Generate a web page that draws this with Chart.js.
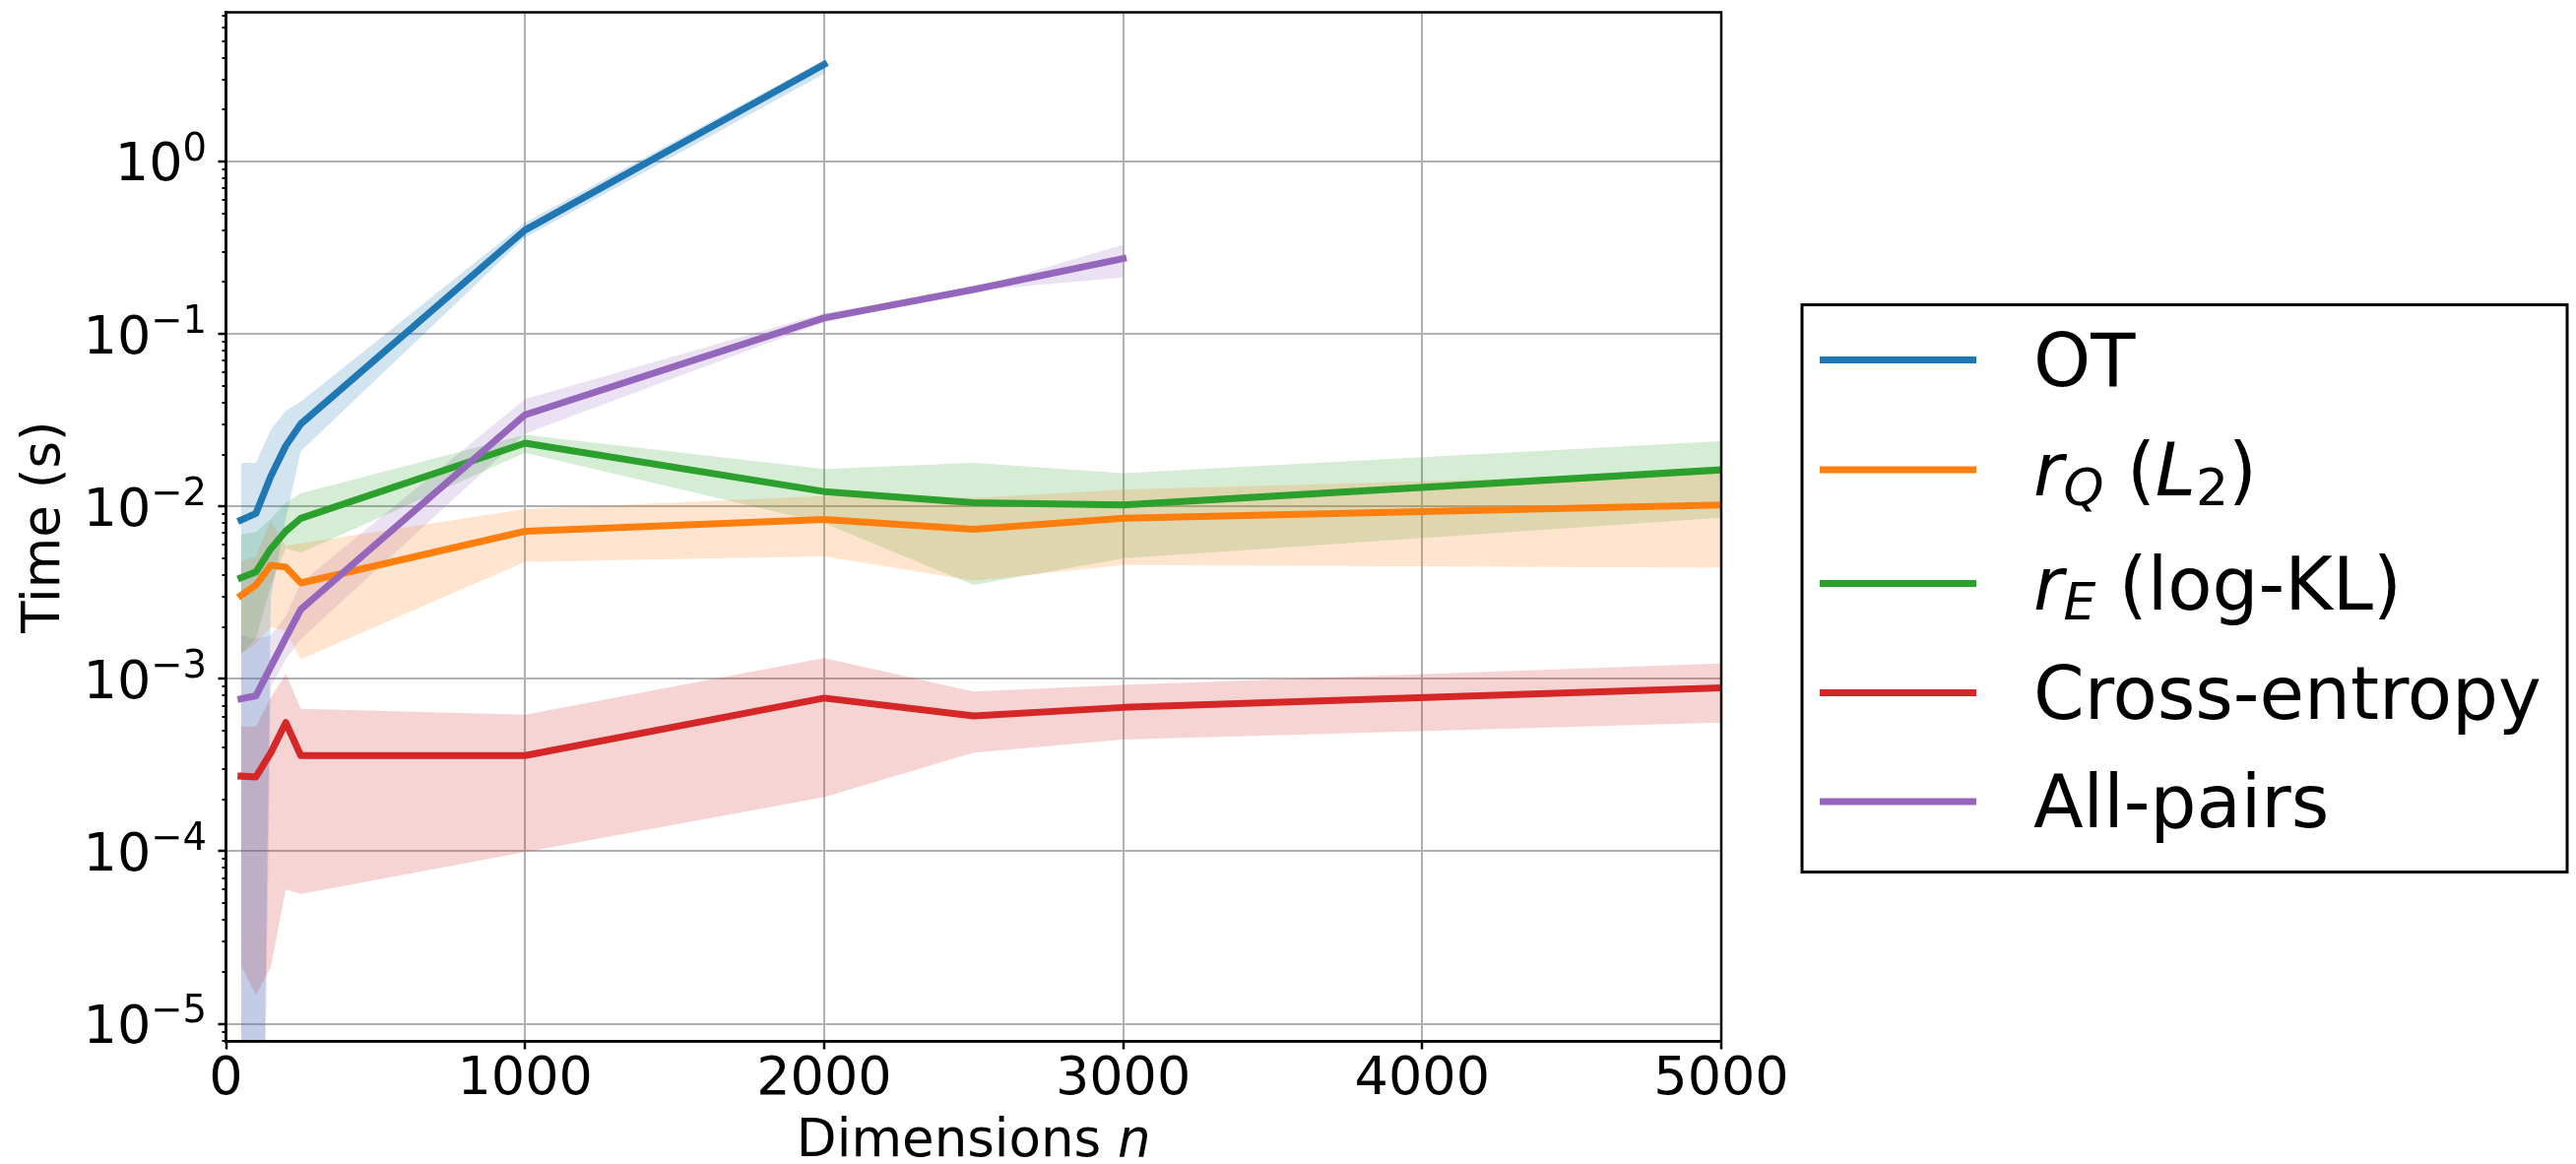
<!DOCTYPE html>
<html>
<head>
<meta charset="utf-8">
<script src="https://cdn.jsdelivr.net/npm/chart.js@4.4.1/dist/chart.umd.min.js"></script>
<style>
  html, body { margin: 0; padding: 0; background: #ffffff; }
  canvas { display: block; }
</style>
</head>
<body>
<canvas id="chart" width="2616" height="1182"></canvas>
<script>
// Problem sizes n at which each method was timed
const dimsAll = [50, 100, 150, 200, 250, 1000, 2000, 2500, 3000, 5000];
const dimsOT = [50, 100, 150, 200, 250, 1000, 2000];
const dimsAllPairs = [50, 100, 150, 200, 250, 1000, 2000, 2500, 3000];

// Mean run time (s) and the shaded spread (low / high) for each method.
// A low value of 1e-9 means the spread falls below the axis floor.
const otMean = [0.00834, 0.00911, 0.0150, 0.0225, 0.0301, 0.401, 3.66];
const otLow  = [1e-9, 1e-9, 0.0030, 0.0085, 0.0209, 0.362, 3.23];
const otHigh = [0.0179, 0.0179, 0.0279, 0.0359, 0.0405, 0.443, 3.89];

const rqMean = [0.00305, 0.00350, 0.00456, 0.00445, 0.00360, 0.00718, 0.00840, 0.00736, 0.00855, 0.0102];
const rqLow  = [0.0014, 0.0016, 0.0020, 0.0019, 0.0013, 0.00478, 0.00513, 0.00371, 0.00457, 0.00441];
const rqHigh = [0.0048, 0.0051, 0.0082, 0.0059, 0.0061, 0.00966, 0.0115, 0.0112, 0.0125, 0.0156];

const reMean = [0.00386, 0.00417, 0.00569, 0.00720, 0.00853, 0.0233, 0.0122, 0.0105, 0.0102, 0.0163];
const reLow  = [0.0014, 0.0017, 0.0035, 0.0057, 0.0054, 0.0205, 0.0080, 0.0035, 0.0050, 0.0086];
const reHigh = [0.0069, 0.0071, 0.0085, 0.0105, 0.0119, 0.0260, 0.0165, 0.0179, 0.0156, 0.0239];

const ceMean = [0.000273, 0.000270, 0.000373, 0.000558, 0.000359, 0.000359, 0.000774, 0.000609, 0.000683, 0.000887];
const ceLow  = [2.19e-5, 1.47e-5, 2.13e-5, 6.0e-5, 5.66e-5, 9.9e-5, 0.000206, 0.000374, 0.000444, 0.000558];
const ceHigh = [0.00053, 0.00053, 0.00078, 0.00107, 0.00067, 0.00062, 0.00132, 0.000844, 0.000923, 0.00123];

const apMean = [0.000766, 0.000798, 0.00118, 0.00173, 0.00253, 0.0340, 0.124, 0.181, 0.274];
const apLow  = [1e-9, 1e-9, 0.0009, 0.0013, 0.0017, 0.0265, 0.117, 0.178, 0.213];
const apHigh = [0.0018, 0.0017, 0.0018, 0.0023, 0.0036, 0.042, 0.132, 0.183, 0.330];

// Axis ranges and labelled decades
const xMin = 0, xMax = 5000, xStep = 1000;
const yMin = 7.9e-6, yMax = 7.34;
const yDecades = [-5, -4, -3, -2, -1, 0];

// Legend entries as rich-text runs (it = italic, sub = subscript)
const legendLabels = [
  [{ t: 'OT' }],
  [{ t: 'r', it: true }, { t: 'Q', it: true, sub: true }, { t: ' (' }, { t: 'L', it: true }, { t: '2', sub: true }, { t: ')' }],
  [{ t: 'r', it: true }, { t: 'E', it: true, sub: true }, { t: ' (log-KL)' }],
  [{ t: 'Cross-entropy' }],
  [{ t: 'All-pairs' }]
];
const seriesColors = ['#1f77b4', '#ff7f0e', '#2ca02c', '#d62728', '#9467bd'];
const bandColors = ['rgba(31,119,180,0.2)', 'rgba(255,127,14,0.2)', 'rgba(44,160,44,0.2)', 'rgba(214,39,40,0.2)', 'rgba(148,103,189,0.2)'];

const FONT = '"DejaVu Sans", sans-serif';

function toPoints(xs, ys) { return xs.map((x, i) => ({ x: x, y: ys[i] })); }
function isDecade(v) {
  const l = Math.log10(v);
  return Math.abs(l - Math.round(l)) < 1e-9;
}

const series = [
  { x: dimsOT, mean: otMean, lo: otLow, hi: otHigh },
  { x: dimsAll, mean: rqMean, lo: rqLow, hi: rqHigh },
  { x: dimsAll, mean: reMean, lo: reLow, hi: reHigh },
  { x: dimsAll, mean: ceMean, lo: ceLow, hi: ceHigh },
  { x: dimsAllPairs, mean: apMean, lo: apLow, hi: apHigh }
];

const datasets = [];
// shaded spreads: upper edge filled down to the following (lower edge) dataset
series.forEach((s, k) => {
  datasets.push({
    data: toPoints(s.x, s.hi), fill: '+1', backgroundColor: bandColors[k],
    borderColor: 'rgba(0,0,0,0)', borderWidth: 0, pointRadius: 0, order: 100
  });
  datasets.push({
    data: toPoints(s.x, s.lo), fill: false,
    borderColor: 'rgba(0,0,0,0)', borderWidth: 0, pointRadius: 0, order: 100
  });
});
// mean lines, later methods drawn on top
series.forEach((s, k) => {
  datasets.push({
    data: toPoints(s.x, s.mean), fill: false, borderColor: seriesColors[k],
    borderWidth: 7, pointRadius: 0, order: 10 - k,
    borderJoinStyle: 'round', borderCapStyle: 'square'
  });
});

// frame, decade labels, x title and legend
const decorations = {
  id: 'decorations',
  afterDraw(chart) {
    const { ctx, chartArea: a, scales: { y } } = chart;
    ctx.save();

    // axes frame
    ctx.strokeStyle = '#000';
    ctx.lineWidth = 2.5;
    ctx.setLineDash([]);
    ctx.strokeRect(a.left, a.top, a.right - a.left, a.bottom - a.top);

    // y decade labels 10^e
    ctx.fillStyle = '#000';
    ctx.textBaseline = 'alphabetic';
    ctx.textAlign = 'right';
    yDecades.forEach(e => {
      const py = y.getPixelForValue(Math.pow(10, e));
      const exp = (e < 0 ? '\u2212' : '') + Math.abs(e);
      const right = a.left - 19.5;
      ctx.font = '38.5px ' + FONT;
      const ew = ctx.measureText(exp).width;
      ctx.fillText(exp, right, py - 1.2);
      ctx.font = '54px ' + FONT;
      ctx.fillText('10', right - ew, py + 19.4);
    });

    // x axis title with italic n
    ctx.textAlign = 'left';
    ctx.font = '53px ' + FONT;
    const w1 = ctx.measureText('Dimensions ').width;
    ctx.font = 'italic 53px ' + FONT;
    const w2 = ctx.measureText('n').width;
    const tx = (a.left + a.right) / 2 - (w1 + w2) / 2;
    const ty = a.bottom + 116.5;
    ctx.font = '53px ' + FONT;
    ctx.fillText('Dimensions ', tx, ty);
    ctx.font = 'italic 53px ' + FONT;
    ctx.fillText('n', tx + w1, ty);

    // legend box
    const L = a.right + 82, T = a.top + 297, W = 777, H = 576;
    ctx.fillStyle = '#fff';
    ctx.fillRect(L, T, W, H);
    ctx.strokeStyle = '#000';
    ctx.lineWidth = 3;
    ctx.strokeRect(L, T, W, H);
    const rows = [56, 167.5, 283, 394, 504.5];
    legendLabels.forEach((runs, k) => {
      const ry = T + rows[k];
      ctx.strokeStyle = seriesColors[k];
      ctx.lineWidth = 7;
      ctx.lineCap = 'butt';
      ctx.beginPath();
      ctx.moveTo(L + 18, ry);
      ctx.lineTo(L + 177, ry);
      ctx.stroke();
      let cx = L + 235;
      const base = ry + 26;
      ctx.fillStyle = '#000';
      runs.forEach(r => {
        const size = r.sub ? 52 : 74;
        ctx.font = (r.it ? 'italic ' : '') + size + 'px ' + FONT;
        ctx.fillText(r.t, cx, base + (r.sub ? 10 : 0));
        cx += ctx.measureText(r.t).width;
      });
    });
    ctx.restore();
  }
};

new Chart(document.getElementById('chart'), {
  type: 'line',
  data: { datasets: datasets },
  plugins: [decorations],
  options: {
    responsive: false,
    animation: false,
    devicePixelRatio: 1,
    events: [],
    layout: { padding: { left: 0, top: 12.5, right: 868, bottom: 0 } },
    plugins: { legend: { display: false }, tooltip: { enabled: false } },
    elements: { line: { tension: 0 } },
    scales: {
      x: {
        type: 'linear', min: xMin, max: xMax,
        ticks: {
          stepSize: xStep, font: { family: FONT, size: 54 }, color: '#000', padding: -1,
          maxRotation: 0, autoSkip: false, callback: v => String(v)
        },
        grid: { color: '#b0b0b0', lineWidth: 2, tickLength: 8, tickColor: '#000', tickWidth: 2.5 },
        border: { color: '#000', width: 2.5 },
        afterFit: s => { s.height = 124.5; }
      },
      y: {
        type: 'logarithmic', min: yMin, max: yMax,
        afterBuildTicks: s => {
          const ticks = [];
          for (let e = Math.floor(Math.log10(yMin)); e <= Math.ceil(Math.log10(yMax)); e++) {
            for (let m = 1; m <= 9; m++) {
              const v = m * Math.pow(10, e);
              if (v >= yMin && v <= yMax) ticks.push({ value: v, major: m === 1 });
            }
          }
          s.ticks = ticks;
        },
        ticks: { display: false },
        grid: {
          color: c => (c.tick && isDecade(c.tick.value)) ? '#b0b0b0' : 'rgba(0,0,0,0)',
          lineWidth: 2, tickLength: 8, tickColor: '#000',
          tickWidth: c => (c.tick && isDecade(c.tick.value)) ? 2.5 : 2,
          tickBorderDash: c => (c.tick && isDecade(c.tick.value)) ? [] : [0, 4, 4, 100]
        },
        border: { color: '#000', width: 2.5 },
        title: { display: true, text: 'Time (s)', color: '#000', font: { family: FONT, size: 53 }, padding: { top: 14, bottom: 0 } },
        afterFit: s => { s.width = 229.5; }
      }
    }
  }
});
</script>
</body>
</html>
